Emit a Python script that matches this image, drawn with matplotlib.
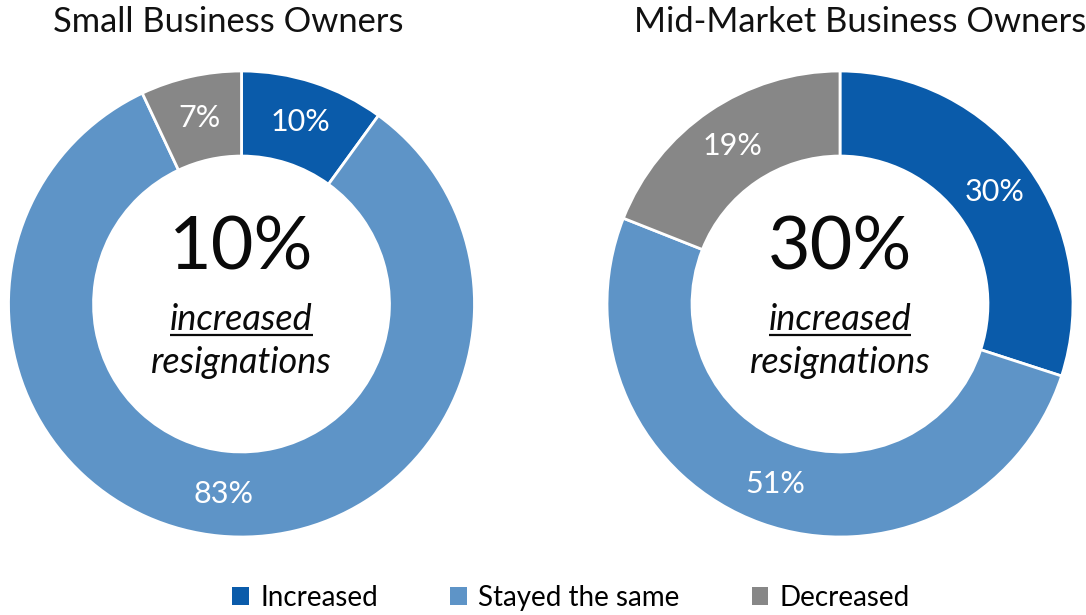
import matplotlib
matplotlib.use("Agg")
import matplotlib.pyplot as plt
from matplotlib.patches import Patch
from matplotlib import font_manager

categories = ["Increased", "Stayed the same", "Decreased"]
small_values = [10, 83, 7]
mid_values = [30, 51, 19]
titles = ["Small Business Owners", "Mid-Market Business Owners"]
center_pcts = ["10%", "30%"]
center_line1 = "increased"
center_line2 = "resignations"

colors = ["#0A5BAA", "#5E94C7", "#878787"]

W, H = 1086, 615
fig = plt.figure(figsize=(W / 100, H / 100), dpi=100)
ax = fig.add_axes([0, 0, 1, 1])

names = {f.name for f in font_manager.fontManager.ttflist}
main_font = "Lato" if "Lato" in names else "DejaVu Sans"
legend_font = main_font

def py(y):
    return H - y

R = 233
width = 0.365
centers = [(241.5, py(304)), (840, py(304))]

for (cx, cy), vals in zip(centers, [small_values, mid_values]):
    wedges, texts, autotexts = ax.pie(
        vals, colors=colors, startangle=90, counterclock=False,
        center=(cx, cy), radius=R,
        autopct=lambda p: f"{p:.0f}%", pctdistance=0.82,
        wedgeprops=dict(width=R * width, edgecolor="white", linewidth=2),
        textprops=dict(color="white", fontsize=22, family=main_font),
        frame=True,
    )

ax.set_xlim(0, W)
ax.set_ylim(0, H)
ax.set_aspect("equal")
ax.axis("off")

# titles
ax.text(228, py(22), titles[0], ha="center", va="center", fontsize=24.8,
        family=main_font, color="#111111")
ax.text(860, py(22), titles[1], ha="center", va="center", fontsize=24.8,
        family=main_font, color="#111111")

fig.canvas.draw()
renderer = fig.canvas.get_renderer()
inv = ax.transData.inverted()

for (cx, cy), big in zip(centers, center_pcts):
    ax.text(cx, py(270), big, ha="center", va="baseline", fontsize=53,
            family=main_font, color="#0a0a0a")
    t1 = ax.text(cx, py(330), center_line1, ha="center", va="baseline",
                 fontsize=26, style="italic", family=main_font, color="#0a0a0a")
    ax.text(cx, py(373), center_line2, ha="center", va="baseline",
            fontsize=26, style="italic", family=main_font, color="#0a0a0a")
    bb = t1.get_window_extent(renderer=renderer)
    (x0, _), (x1, _) = inv.transform([(bb.x0, bb.y0), (bb.x1, bb.y1)])
    ax.plot([x0, x1], [py(335), py(335)], color="#0a0a0a", lw=1.6,
            solid_capstyle="butt")

handles = [Patch(facecolor=c, edgecolor="none") for c in colors]
fig.legend(handles, categories, loc="center",
           bbox_to_anchor=(571 / W, 1 - 598 / H), ncol=3, frameon=False,
           prop=dict(family=legend_font, size=20),
           handlelength=0.6, handleheight=0.6, handletextpad=0.4,
           columnspacing=2.6)

fig.savefig("out.png", dpi=100)
